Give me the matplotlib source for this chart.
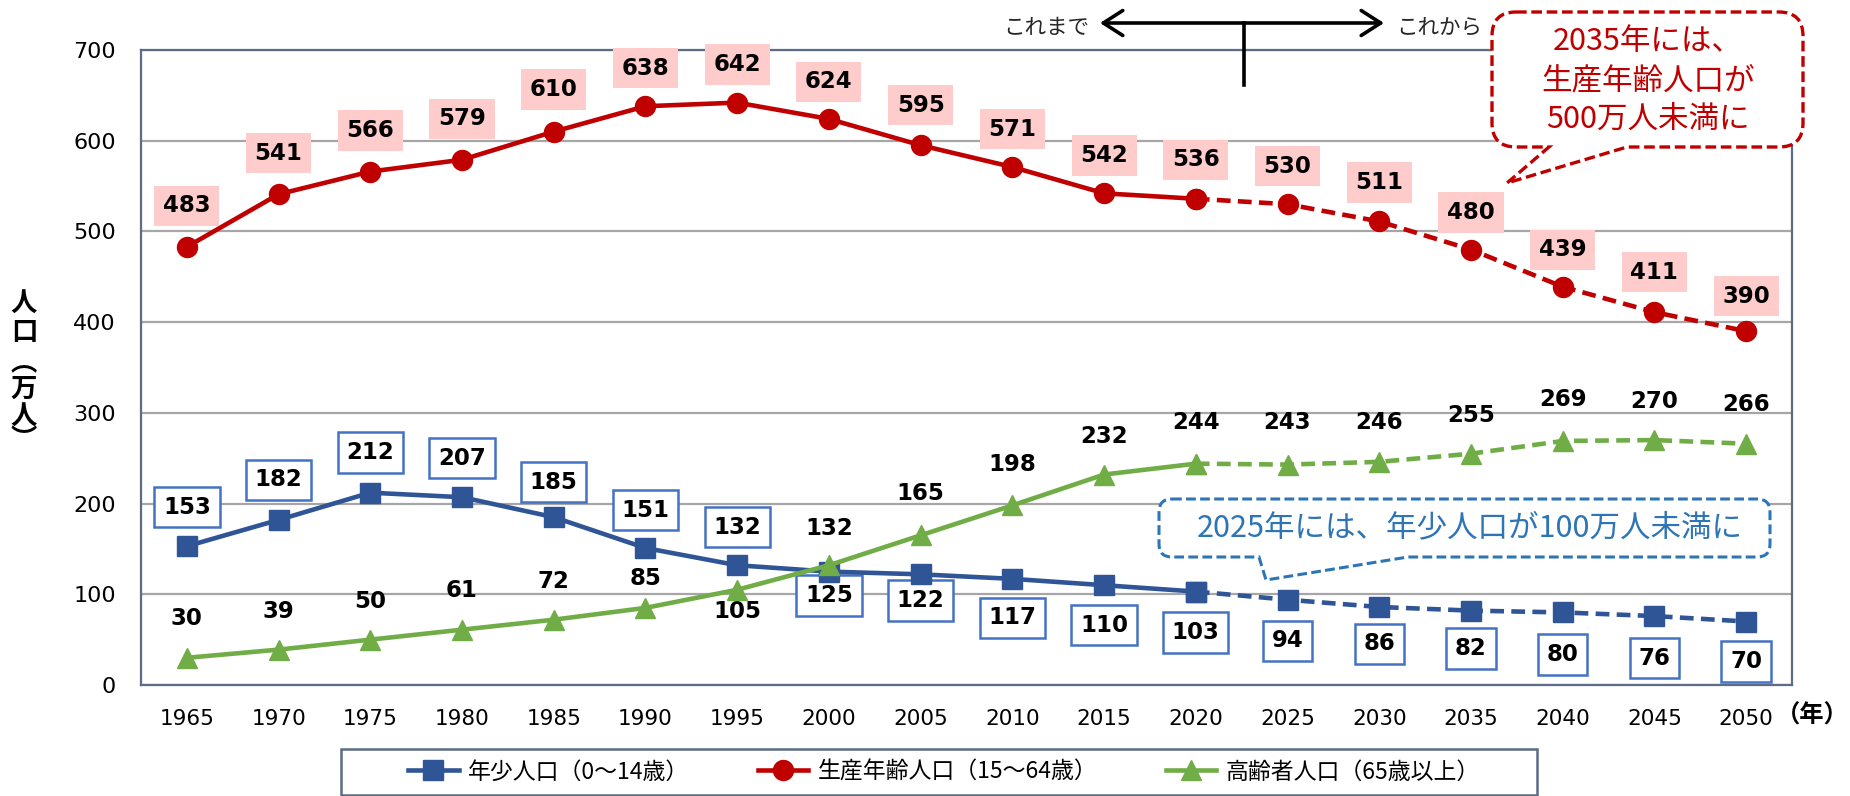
import matplotlib
matplotlib.use("Agg")
import matplotlib.pyplot as plt
import numpy as np
from matplotlib.path import Path
from matplotlib.patches import PathPatch, Rectangle, FancyArrowPatch
from matplotlib.transforms import Affine2D
from matplotlib.lines import Line2D
from matplotlib.font_manager import FontProperties

# ---------------- data ----------------
years = [1965, 1970, 1975, 1980, 1985, 1990, 1995, 2000, 2005, 2010,
         2015, 2020, 2025, 2030, 2035, 2040, 2045, 2050]
youth = [153, 182, 212, 207, 185, 151, 132, 125, 122, 117, 110, 103, 94, 86, 82, 80, 76, 70]
working = [483, 541, 566, 579, 610, 638, 642, 624, 595, 571, 542, 536, 530, 511, 480, 439, 411, 390]
elderly = [30, 39, 50, 61, 72, 85, 105, 132, 165, 198, 232, 244, 243, 246, 255, 269, 270, 266]
series_names = ["年少人口（0～14歳）", "生産年齢人口（15～64歳）", "高齢者人口（65歳以上）"]
yticks = [0, 100, 200, 300, 400, 500, 600, 700]
last_actual = 2020

# label offsets in pixels (positive = above)
youth_off = [39, 40, 40, 39, 35, 38, 38, -24, -26, -39, -40, -41, -41, -37, -38, -42, -42, -40]
working_off = [41, 41, 41, 41, 42, 38, 38, 37, 40, 38, 38, 39, 38, 39, 37, 37, 40, 35]
elderly_off = [39, 38, 38, 39, 38, 29, -22, 37, 42, 41, 38, 41, 42, 39, 38, 41, 39, 39]

CJK = ["Noto Sans CJK JP", "DejaVu Sans"]
plt.rcParams["font.family"] = ["DejaVu Sans", "Noto Sans CJK JP"]

W, H = 1850, 796
fig = plt.figure(figsize=(W / 100, H / 100), dpi=100)
T = Affine2D().scale(1 / W, -1 / H).translate(0, 1) + fig.transFigure

ax = fig.add_axes([141 / W, 1 - 685 / H, (1792 - 141) / W, (685 - 50) / H])
x = np.arange(len(years))
split = years.index(last_actual)

c_blue, c_red, c_green = "#2F5597", "#C00000", "#70AD47"
LW = 3.3

def draw(vals, color, marker, ms):
    v = np.array(vals)
    ax.plot(x[:split + 1], v[:split + 1], color=color, lw=LW, marker=marker, ms=ms,
            zorder=5, clip_on=False)
    ax.plot(x[split:], v[split:], color=color, lw=LW, ls=(0, (3, 1.6)), marker=marker,
            ms=ms, zorder=5, clip_on=False)
    return Line2D([], [], color=color, lw=LW, marker=marker, ms=ms)

h1 = draw(youth, c_blue, "s", 14.2)
h2 = draw(working, c_red, "o", 14.4)
h3 = draw(elderly, c_green, "^", 14.6)

def labels(vals, offs, bbox):
    for i, v in enumerate(vals):
        ax.annotate(str(v), (x[i], v), xytext=(0, offs[i]), textcoords="offset pixels",
                    ha="center", va="center", fontsize=16.5, fontweight="bold",
                    color="black", bbox=bbox, zorder=3, annotation_clip=False)

labels(working, working_off, dict(boxstyle="square,pad=0.38", fc="#FFCCCC", ec="none"))
labels(youth, youth_off, dict(boxstyle="square,pad=0.38", fc="white", ec="#4472C4", lw=1.8))
labels(elderly, elderly_off, None)

ax.set_xlim(-0.5, len(years) - 0.5)
ax.set_ylim(0, 700)
ax.set_yticks(yticks)
ax.set_xticks(x)
ax.set_xticklabels([str(y) for y in years])
ax.tick_params(axis="both", length=0)
ax.tick_params(axis="y", labelsize=16, pad=18)
ax.tick_params(axis="x", labelsize=15.5, pad=17)
ax.yaxis.grid(True, color="#A6A6A6", lw=1.6)
ax.set_axisbelow(True)
for s in ax.spines.values():
    s.set_color("#5B6C84")
    s.set_linewidth(1.6)

# year unit
fig.text(1812, 716, "（年）", transform=T, ha="center", va="center", fontsize=17.5,
         family=CJK, fontweight="bold")

# y axis label, stacked vertically
for ch, yy in zip(["人", "口", "︵", "万", "人", "︶"], [303, 332, 364, 389, 416, 440]):
    fig.text(24, yy, ch, transform=T, ha="center", va="center", fontsize=19,
             family=CJK, fontweight="bold")

# legend
fig.add_artist(Rectangle((341, 749), 1196, 46, transform=T, fc="white",
                         ec="#5B6C84", lw=1.8, zorder=1))
leg = fig.legend([h1, h2, h3], series_names, loc="center",
                 bbox_to_anchor=(944 / W, 1 - 772 / H), ncol=3, frameon=False,
                 prop=FontProperties(family=CJK, size=16.5), handlelength=2.2,
                 handletextpad=0.4, columnspacing=3.0)
leg.set_zorder(2)

# arrow annotation
arr = FancyArrowPatch((1100, 23), (1384, 23), transform=T,
                      arrowstyle="<->,head_length=0.7,head_width=0.45",
                      lw=2.6, color="black", shrinkA=0, shrinkB=0,
                      mutation_scale=20, zorder=6)
fig.add_artist(arr)
fig.add_artist(Line2D([1244, 1244], [23, 85], transform=T, color="black", lw=2.6, zorder=6))
fig.text(1089, 28, "これまで", transform=T, ha="right", va="center", fontsize=15.5,
         family=CJK, color="#262626")
fig.text(1396, 28, "これから", transform=T, ha="left", va="center", fontsize=15.5,
         family=CJK, color="#262626")

# callouts
def callout(x0, y0, x1, y1, r, ba, bb, tip, color, lw):
    M, L, C, CL = Path.MOVETO, Path.LINETO, Path.CURVE3, Path.CLOSEPOLY
    verts = [(x0 + r, y0), (x1 - r, y0), (x1, y0), (x1, y0 + r), (x1, y1 - r),
             (x1, y1), (x1 - r, y1), (bb, y1), tip, (ba, y1), (x0 + r, y1),
             (x0, y1), (x0, y1 - r), (x0, y0 + r), (x0, y0), (x0 + r, y0), (x0 + r, y0)]
    codes = [M, L, C, C, L, C, C, L, L, L, L, C, C, L, C, C, CL]
    p = PathPatch(Path(verts, codes), transform=T, fc="white", ec=color, lw=lw,
                  ls=(0, (3.2, 1.4)), zorder=7)
    fig.add_artist(p)

c_red_txt = "#C00000"
c_blue_txt = "#2E75B6"
callout(1492, 12, 1803, 147, 24, 1549, 1627, (1507, 183), c_red_txt, 2.4)
for line, yy in zip(["2035年には、", "生産年齢人口が", "500万人未満に"], [42, 81, 119]):
    fig.text(1648, yy, line, transform=T, ha="center", va="center", fontsize=22,
             family=CJK, color=c_red_txt, zorder=8)

callout(1159, 499, 1770, 557, 13, 1259, 1408, (1266, 580), c_blue_txt, 2.2)
fig.text(1470, 528, "2025年には、年少人口が100万人未満に", transform=T, ha="center",
         va="center", fontsize=22, family=CJK, color=c_blue_txt, zorder=8)

fig.savefig("out.png", dpi=100)
